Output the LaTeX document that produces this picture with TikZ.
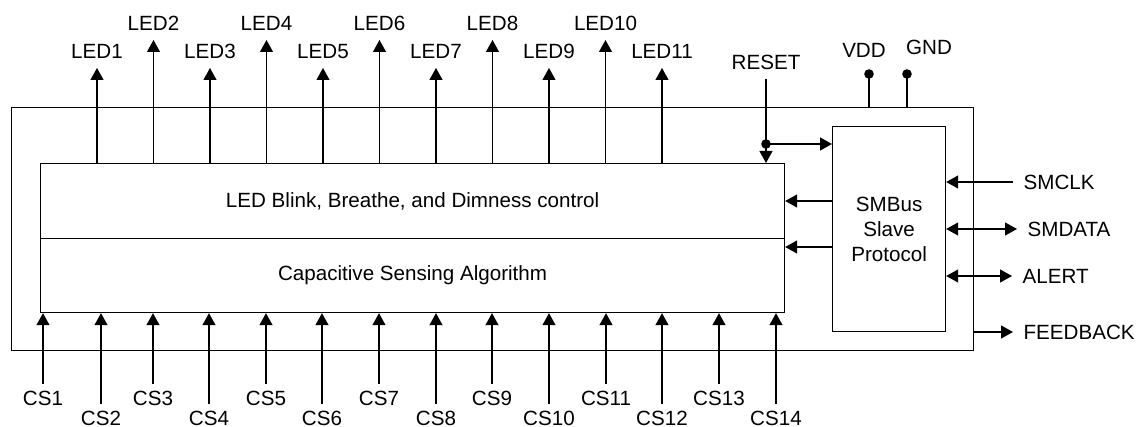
\documentclass[tikz,border=0pt]{standalone}
\usepackage{fontspec}
\setmainfont{Liberation Sans}
\usetikzlibrary{arrows.meta}
\begin{document}
\begin{tikzpicture}[x=0.5pt,y=-0.5pt, line width=0.6pt,
  >={Triangle[length=6pt,width=6.5pt]},
  every node/.style={font=\fontsize{10.3}{12.5}\selectfont},
  blk/.style={draw, inner sep=0pt, anchor=north west},
  toplab/.style={anchor=south, inner xsep=0pt, inner ysep=4.5pt, text height=7.4pt, text depth=0pt},
  botlab/.style={anchor=north, inner xsep=0pt, inner ysep=3pt, text height=7.4pt, text depth=0pt},
  sidelab/.style={anchor=west, inner xsep=5pt, inner ysep=0pt, text height=7.4pt, text depth=0pt},
  pinlab/.style={inner sep=0pt, text height=7.4pt, text depth=0pt},
  pindot/.style={circle, fill, inner sep=0pt, minimum size=4.8pt}]
\useasboundingbox (0,0) rectangle (1137,427);

\node[blk, minimum width=481pt, minimum height=121.5pt] (outer) at (11,107) {};
\node[blk, minimum width=372pt, minimum height=37.5pt] (ledctl) at (40,163) {LED Blink, Breathe, and Dimness control};
\node[blk, minimum width=372pt, minimum height=37pt] (capsense) at (40,238) {Capacitive Sensing Algorithm};
\node[blk, minimum width=56.5pt, minimum height=102.5pt, align=center] (smbus) at (832,126) {SMBus\\Slave\\Protocol};

\foreach \i/\x in {1/97,2/153.5,3/210,4/266.5,5/323,6/379.5,7/436,8/492.5,9/549,10/605.5,11/662}{
  \ifodd\i \def\ty{68}\else\def\ty{40}\fi
  \node[toplab] (led\i) at (\x,\ty) {LED\i};
  \draw[->] (led\i.south |- ledctl.north) -- (led\i.south);
}

\foreach \i/\x in {1/43,2/101,3/153,4/209,5/266,6/322,7/379,8/436,9/492,10/549,11/606,12/662,13/719,14/776}{
  \ifodd\i \def\by{384}\else\def\by{404}\fi
  \node[botlab] (cs\i) at (\x,\by) {CS\i};
  \draw[->] (cs\i.north) -- (cs\i.north |- capsense.south);
}

\node[toplab] (reset) at (766,79) {RESET};
\node[pindot] (rdot) at (766,144) {};
\draw (reset.south) -- (rdot.center);
\draw[->] (rdot.center) -- (rdot.center |- ledctl.north);
\draw[->] (rdot.center) -- (rdot.center -| smbus.west);

\node[pindot] (vdddot) at (869,74) {};
\node[pindot] (gnddot) at (907,74) {};
\draw (vdddot.center) -- (vdddot.center |- outer.north);
\draw (gnddot.center) -- (gnddot.center |- outer.north);
\node[pinlab] (vdd) at (864,50) {VDD};
\node[pinlab] (gnd) at (929,47) {GND};

\coordinate (sb1) at (832,201);
\coordinate (sb2) at (832,247);
\draw[->] (sb1) -- (sb1 -| ledctl.east);
\draw[->] (sb2) -- (sb2 -| capsense.east);

\node[sidelab] (smclk) at (1013,182) {SMCLK};
\draw[->] (smclk.west) -- (smclk.west -| smbus.east);
\node[sidelab] (smdata) at (1017,229) {SMDATA};
\draw[<->] (smbus.east |- smdata.west) -- (smdata.west);
\node[sidelab] (alert) at (1012,276) {ALERT};
\draw[<->] (smbus.east |- alert.west) -- (alert.west);
\node[sidelab] (fb) at (1013,332) {FEEDBACK};
\draw[->] (outer.east |- fb.west) -- (fb.west);
\end{tikzpicture}
\end{document}
